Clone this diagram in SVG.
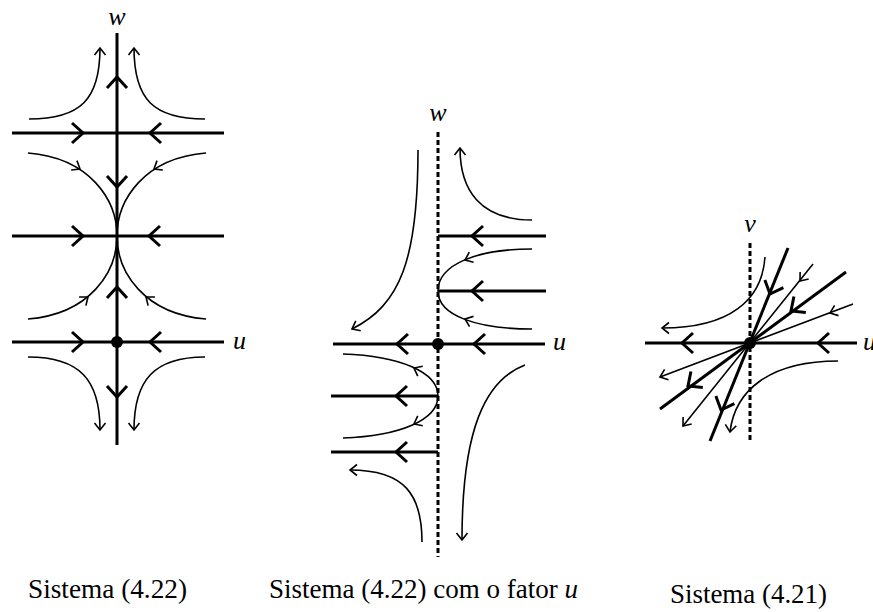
<svg xmlns="http://www.w3.org/2000/svg" xmlns:xlink="http://www.w3.org/1999/xlink" width="873" height="612" viewBox="0 0 873 612">
<style>
.thick{fill:none;stroke:#000;stroke-width:3}
.thin{fill:none;stroke:#000;stroke-width:1.6}
.dash{fill:none;stroke:#000;stroke-width:3;stroke-dasharray:5 3}
.lab{font-family:"Liberation Serif",serif;font-style:italic;font-size:26px;fill:#000}
.cap{font-family:"Liberation Serif",serif;font-size:27px;fill:#000}
.end{marker-end:url(#ar)}
</style>
<defs>
<marker id="ar" markerUnits="userSpaceOnUse" viewBox="-10 -10 20 20" markerWidth="20" markerHeight="20" refX="0" refY="0" orient="auto">
<path d="M-7,-5.5 L0,0 L-7,5.5" fill="none" stroke="#000" stroke-width="1.6"/>
</marker>
<path id="ch" d="M-11,-10 L0,0 L-11,10" fill="none" stroke="#000" stroke-width="3"/>
<path id="ah" d="M-7,-5.5 L0,0 L-7,5.5" fill="none" stroke="#000" stroke-width="1.6"/>
</defs>

<!-- Panel 1 -->
<g id="panel1">
<g id="p1-axes">
<path class="thick" d="M117,33 V445"/>
<path class="thick" d="M12,133 H224"/>
<path class="thick" d="M12,236 H224"/>
<path class="thick" d="M12,342 H224"/>
<circle cx="117" cy="342" r="6" fill="#000"/>
</g>
<g id="p1-chevrons">
<use xlink:href="#ch" transform="translate(83,133)"/>
<use xlink:href="#ch" transform="translate(150,133) rotate(180)"/>
<use xlink:href="#ch" transform="translate(83,236)"/>
<use xlink:href="#ch" transform="translate(149,236) rotate(180)"/>
<use xlink:href="#ch" transform="translate(83,342)"/>
<use xlink:href="#ch" transform="translate(150,342) rotate(180)"/>
<use xlink:href="#ch" transform="translate(117,77) rotate(-90)"/>
<use xlink:href="#ch" transform="translate(117,187) rotate(90)"/>
<use xlink:href="#ch" transform="translate(117,287) rotate(-90)"/>
<use xlink:href="#ch" transform="translate(117,397) rotate(90)"/>
</g>
<g id="p1-curves">
<path class="thin end" d="M29,119 C80,119 100,100 100,48"/>
<path class="thin end" d="M205,119 C154,119 134,100 134,48"/>
<path class="thin" d="M28,153 C90,158 117,200 117,236"/>
<path class="thin" d="M206,153 C144,158 117,200 117,236"/>
<path class="thin" d="M28,319 C90,314 117,272 117,236"/>
<path class="thin" d="M206,319 C144,314 117,272 117,236"/>
<use xlink:href="#ah" transform="translate(80,169) rotate(32)"/>
<use xlink:href="#ah" transform="translate(154,169) rotate(148)"/>
<use xlink:href="#ah" transform="translate(88,297) rotate(-38)"/>
<use xlink:href="#ah" transform="translate(146,297) rotate(-142)"/>
<path class="thin end" d="M28,357 C80,357 100,380 100,430"/>
<path class="thin end" d="M205,357 C154,357 134,380 134,430"/>
</g>
<text class="lab" x="117" y="25" text-anchor="middle">w</text>
<text class="lab" x="233" y="349">u</text>
</g>

<!-- Panel 2 -->
<g id="panel2">
<g id="p2-axes">
<path class="dash" d="M438,132 V557"/>
<path class="thick" d="M333,344 H545"/>
<path class="thick" d="M438,236 H546"/>
<path class="thick" d="M438,291 H546"/>
<path class="thick" d="M331,396 H438"/>
<path class="thick" d="M331,452 H438"/>
<circle cx="438" cy="344" r="6" fill="#000"/>
</g>
<g id="p2-chevrons">
<use xlink:href="#ch" transform="translate(397,344) rotate(180)"/>
<use xlink:href="#ch" transform="translate(474,344) rotate(180)"/>
<use xlink:href="#ch" transform="translate(472,236) rotate(180)"/>
<use xlink:href="#ch" transform="translate(472,291) rotate(180)"/>
<use xlink:href="#ch" transform="translate(396,396) rotate(180)"/>
<use xlink:href="#ch" transform="translate(396,452) rotate(180)"/>
</g>
<g id="p2-curves">
<path class="thin end" d="M532,220 C480,220 460,190 460,148"/>
<path class="thin" d="M532,249 C478,249 438,264 438,291"/>
<path class="thin" d="M532,329 C478,329 438,316 438,291"/>
<use xlink:href="#ah" transform="translate(465,260) rotate(157)"/>
<use xlink:href="#ah" transform="translate(465,319) rotate(-159)"/>
<path class="thin end" d="M418,150 C418,260 400,305 352,329"/>
<path class="thin" d="M343,354 C400,356 438,372 438,396"/>
<path class="thin" d="M343,438 C400,436 438,420 438,396"/>
<use xlink:href="#ah" transform="translate(414,368) rotate(-153)"/>
<use xlink:href="#ah" transform="translate(414,424) rotate(153)"/>
<path class="thin end" d="M422,542 C422,495 405,470 350,470"/>
<path class="thin end" d="M525,365 C485,380 462,430 462,540"/>
</g>
<text class="lab" x="438" y="121" text-anchor="middle">w</text>
<text class="lab" x="553" y="350">u</text>
</g>

<!-- Panel 3 -->
<g id="panel3">
<g id="p3-axes">
<path class="dash" d="M750,243 V442"/>
<path class="thick" d="M645,343 H857"/>
<path class="thick" d="M788,248 L710,441"/>
<path class="thick" d="M846,272 L660,409"/>
<circle cx="750" cy="343" r="6" fill="#000"/>
</g>
<g id="p3-chevrons">
<use xlink:href="#ch" transform="translate(682,343) rotate(180)"/>
<use xlink:href="#ch" transform="translate(818,343) rotate(180)"/>
<use xlink:href="#ch" transform="translate(770,294) rotate(112)"/>
<use xlink:href="#ch" transform="translate(721,410) rotate(112)"/>
<use xlink:href="#ch" transform="translate(791,311) rotate(143.6)"/>
<use xlink:href="#ch" transform="translate(688,386) rotate(143.6)"/>
</g>
<g id="p3-curves">
<path class="thin end" d="M813,264 L683,426"/>
<path class="thin end" d="M853,304 L660,377"/>
<use xlink:href="#ah" transform="translate(800,281) rotate(129)"/>
<use xlink:href="#ah" transform="translate(830,313) rotate(159)"/>
<path class="thin end" d="M765,257 C762,300 730,328 662,328"/>
<path class="thin end" d="M838,361 C770,361 735,390 730,432"/>
</g>
<text class="lab" x="750" y="232" text-anchor="middle">v</text>
<text class="lab" x="863" y="350">u</text>
</g>

<!-- Captions -->
<g id="captions">
<text class="cap" x="28" y="598" textLength="159" lengthAdjust="spacingAndGlyphs">Sistema (4.22)</text>
<text class="cap" x="269" y="598" font-size="26">Sistema (4.22) com o fator <tspan font-style="italic">u</tspan></text>
<text class="cap" x="670" y="603" textLength="157" lengthAdjust="spacingAndGlyphs">Sistema (4.21)</text>
</g>
</svg>
